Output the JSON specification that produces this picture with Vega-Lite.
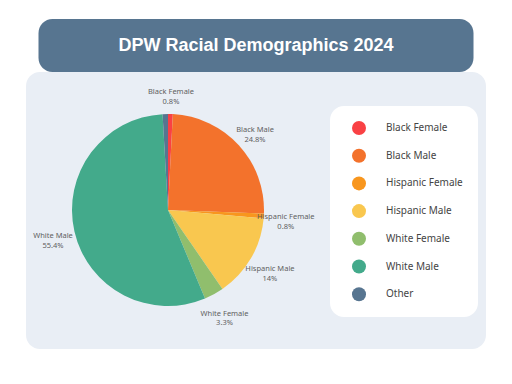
{
  "$schema": "https://vega.github.io/schema/vega-lite/v6.json",
  "background": "white",
  "padding": {"left": 26, "top": 19, "right": 0, "bottom": 0},
  "spacing": 0,
  "center": true,
  "config": {"view": {"stroke": null}, "font": "Noto Sans"},
  "vconcat": [
    {
      "width": 435,
      "height": 53,
      "view": {"fill": "#577590", "cornerRadius": 14, "stroke": null},
      "data": {"values": [{"t": "DPW Racial Demographics 2024"}]},
      "mark": {"type": "text", "fontSize": 18, "fontWeight": "bold", "color": "white", "font": "Liberation Sans"},
      "encoding": {"text": {"field": "t", "type": "nominal"}}
    },
    {
      "width": 460,
      "height": 277,
      "view": {"fill": "#e9eef5", "cornerRadius": 14, "stroke": null},
      "data": {
        "values": [
          {"name": "Black Female", "pct": 0.8, "rank": 1, "label": "Black Female\n0.8%"},
          {"name": "Black Male", "pct": 24.8, "rank": 2, "label": "Black Male\n24.8%"},
          {"name": "Hispanic Female", "pct": 0.8, "rank": 3, "label": "Hispanic Female\n0.8%"},
          {"name": "Hispanic Male", "pct": 14, "rank": 4, "label": "Hispanic Male\n14%"},
          {"name": "White Female", "pct": 3.3, "rank": 5, "label": "White Female\n3.3%"},
          {"name": "White Male", "pct": 55.4, "rank": 6, "label": "White Male\n55.4%"},
          {"name": "Other", "pct": 0.9, "rank": 7, "label": ""}
        ]
      },
      "encoding": {
        "theta": {"field": "pct", "type": "quantitative", "stack": true},
        "order": {"field": "rank", "type": "quantitative"}
      },
      "layer": [
        {
          "mark": {"type": "arc", "outerRadius": 96, "x": 142, "y": 138},
          "encoding": {
            "color": {
              "field": "name",
              "type": "nominal",
              "sort": null,
              "scale": {
                "domain": ["Black Female", "Black Male", "Hispanic Female", "Hispanic Male", "White Female", "White Male", "Other"],
                "range": ["#f94144", "#f3722c", "#f8961e", "#f9c74f", "#90be6d", "#43aa8b", "#577590"]
              },
              "legend": {
                "title": null,
                "orient": "none",
                "legendX": 304,
                "legendY": 87,
                "fillColor": "white",
                "cornerRadius": 14,
                "padding": 15,
                "symbolType": "circle",
                "symbolSize": 196,
                "symbolStrokeWidth": 0,
                "symbolOpacity": 1,
                "symbolOffset": 7,
                "labelFontSize": 10,
                "labelFont": "Noto Sans",
                "labelColor": "#444444",
                "labelOffset": 20,
                "rowPadding": 13.7
              }
            }
          }
        },
        {
          "mark": {"type": "text", "radius": 118, "x": 142, "y": 138, "fontSize": 7.5, "color": "#5f5f5f", "lineBreak": "\n", "font": "Noto Sans"},
          "encoding": {
            "detail": {"field": "name", "type": "nominal"},
            "text": {"field": "label", "type": "nominal"}
          }
        }
      ]
    }
  ]
}
